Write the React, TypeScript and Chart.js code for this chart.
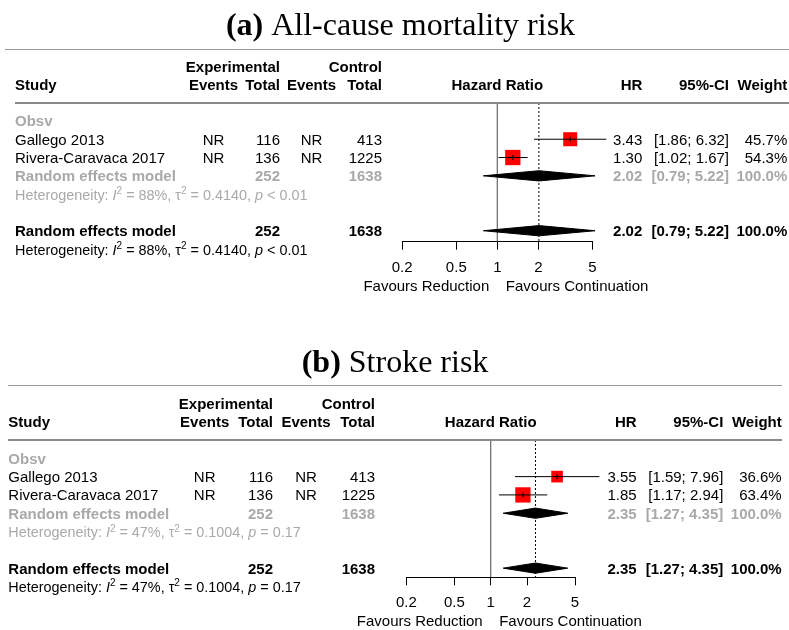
import React, { useEffect, useRef } from 'react';
import { Chart, registerables } from 'chart.js';

Chart.register(...registerables);

const W = 789;
const H = 630;

// ---- study table (shared by both outcomes) ----
const studies = ['Gallego 2013', 'Rivera-Caravaca 2017'];
const expEvents = ['NR', 'NR'];
const expTotal = [116, 136];
const ctrlEvents = ['NR', 'NR'];
const ctrlTotal = [413, 1225];
const pooledExpTotal = 252;
const pooledCtrlTotal = 1638;
const groupLabel = 'Obsv';

// ---- (a) all-cause mortality ----
const mortalityHR = [3.43, 1.3];
const mortalityLower = [1.86, 1.02];
const mortalityUpper = [6.32, 1.67];
const mortalityWeight = [45.7, 54.3];
const mortalityPooled = [2.02, 0.79, 5.22]; // estimate, lower, upper
const mortalityHet = ['88%', '0.4140', '< 0.01']; // I^2, tau^2, p

// ---- (b) stroke ----
const strokeHR = [3.55, 1.85];
const strokeLower = [1.59, 1.17];
const strokeUpper = [7.96, 2.94];
const strokeWeight = [36.6, 63.4];
const strokePooled = [2.35, 1.27, 4.35];
const strokeHet = ['47%', '0.1004', '= 0.17'];

// ---- x axis ----
const tickValues = [0.2, 0.5, 1, 2, 5];
const tickLabels = ['0.2', '0.5', '1', '2', '5'];
const favoursLeft = 'Favours Reduction';
const favoursRight = 'Favours Continuation';

const SANS = "'Liberation Sans', Arial, Helvetica, sans-serif";
const SERIF = "'Liberation Serif', 'Times New Roman', serif";
const GRAY = '#a9a9a9';
const FS = 15;
const HET_FS = 14.4;
const MAX_BOX = 15.3;
const DIAMOND_H = 0.28;
const AXIS_H = 8 + FS * 1.2 + 2 * 9;

type Layout = {
  tag: string;
  title: string;
  titleCX: number;
  titleBase: number;
  ruleY: number;
  ruleX0: number;
  ruleX1: number;
  lineX0: number;
  lineX1: number;
  top: number;
  axisY: number;
  forestL: number;
  forestR: number;
  yMin: number;
  yMax: number;
  study: number;
  evC1: number;
  totR1: number;
  evC2: number;
  totR2: number;
  hrR: number;
  ciR: number;
  wR: number;
};

type Outcome = {
  hr: number[];
  lower: number[];
  upper: number[];
  weight: number[];
  pooled: number[];
  het: string[];
};

const layoutA: Layout = {
  tag: '(a)', title: ' All-cause mortality risk', titleCX: 400.5, titleBase: 35,
  ruleY: 49, ruleX0: 5, ruleX1: 789, lineX0: 15, lineX1: 789,
  top: 103, axisY: 241.7, forestL: 402.1, forestR: 592.5, yMin: -0.98, yMax: 6.6,
  study: 15, evC1: 213.5, totR1: 280, evC2: 311.5, totR2: 382,
  hrR: 642.3, ciR: 729, wR: 787.3,
};

const layoutB: Layout = {
  tag: '(b)', title: ' Stroke risk', titleCX: 395, titleBase: 371.5,
  ruleY: 385, ruleX0: 8, ruleX1: 782, lineX0: 8, lineX1: 782,
  top: 440, axisY: 577.3, forestL: 406.4, forestR: 575, yMin: -1.0, yMax: 6.5,
  study: 8.3, evC1: 204.7, totR1: 273, evC2: 306, totR2: 375,
  hrR: 636.7, ciR: 723.3, wR: 781.7,
};

const mortality: Outcome = {
  hr: mortalityHR, lower: mortalityLower, upper: mortalityUpper,
  weight: mortalityWeight, pooled: mortalityPooled, het: mortalityHet,
};
const stroke: Outcome = {
  hr: strokeHR, lower: strokeLower, upper: strokeUpper,
  weight: strokeWeight, pooled: strokePooled, het: strokeHet,
};

const f2 = (v: number) => v.toFixed(2);
const ciText = (lo: number, hi: number) => `[${f2(lo)}; ${f2(hi)}]`;

function txt(ctx: CanvasRenderingContext2D, s: string, x: number, y: number,
  align: CanvasTextAlign, weight: string, color: string, size = FS) {
  ctx.font = `${weight} ${size}px ${SANS}`;
  ctx.textAlign = align;
  ctx.textBaseline = 'alphabetic';
  ctx.fillStyle = color;
  ctx.fillText(s, x, y);
}

function drawHet(ctx: CanvasRenderingContext2D, x: number, y: number, het: string[], color: string) {
  const segs: [string, string][] = [
    ['Heterogeneity: ', 'n'], ['I', 'i'], ['2', 's'], [` = ${het[0]}, `, 'n'],
    ['\u03c4', 'n'], ['2', 's'], [` = ${het[1]}, `, 'n'], ['p', 'i'], [` ${het[2]}`, 'n'],
  ];
  ctx.textAlign = 'left';
  ctx.textBaseline = 'alphabetic';
  ctx.fillStyle = color;
  let cx = x;
  for (const [s, k] of segs) {
    if (k === 'i') ctx.font = `italic ${HET_FS}px ${SANS}`;
    else if (k === 's') ctx.font = `${Math.round(HET_FS * 0.72)}px ${SANS}`;
    else ctx.font = `${HET_FS}px ${SANS}`;
    ctx.fillText(s, cx, k === 's' ? y - 5.5 : y);
    cx += ctx.measureText(s).width;
  }
}

function hline(ctx: CanvasRenderingContext2D, x0: number, x1: number, y: number, w: number, c: string) {
  ctx.save();
  ctx.strokeStyle = c;
  ctx.lineWidth = w;
  ctx.beginPath();
  ctx.moveTo(x0, y);
  ctx.lineTo(x1, y);
  ctx.stroke();
  ctx.restore();
}

function tablePlugin(L: Layout, o: Outcome) {
  return {
    id: 'forestTable',
    afterDraw(chart: any) {
      const ctx: CanvasRenderingContext2D = chart.ctx;
      const ys = chart.scales.y;
      const xs = chart.scales.x;
      const base = (r: number) => ys.getPixelForValue(r) + 5.5;
      const n = studies.length;
      ctx.save();

      // caption
      ctx.textBaseline = 'alphabetic';
      ctx.textAlign = 'left';
      ctx.font = `bold 32px ${SERIF}`;
      const w1 = ctx.measureText(L.tag).width;
      ctx.font = `32px ${SERIF}`;
      const w2 = ctx.measureText(L.title).width;
      const tx = L.titleCX - (w1 + w2) / 2;
      ctx.fillStyle = '#000';
      ctx.font = `bold 32px ${SERIF}`;
      ctx.fillText(L.tag, tx, L.titleBase);
      ctx.font = `32px ${SERIF}`;
      ctx.fillText(L.title, tx + w1, L.titleBase);
      hline(ctx, L.ruleX0, L.ruleX1, L.ruleY + 0.5, 1, '#9a9a9a');

      // column headers
      txt(ctx, 'Experimental', L.totR1, base(-3), 'right', 'bold', '#000');
      txt(ctx, 'Control', L.totR2, base(-3), 'right', 'bold', '#000');
      txt(ctx, 'Study', L.study, base(-2), 'left', 'bold', '#000');
      txt(ctx, 'Events', L.evC1, base(-2), 'center', 'bold', '#000');
      txt(ctx, 'Total', L.totR1, base(-2), 'right', 'bold', '#000');
      txt(ctx, 'Events', L.evC2, base(-2), 'center', 'bold', '#000');
      txt(ctx, 'Total', L.totR2, base(-2), 'right', 'bold', '#000');
      txt(ctx, 'Hazard Ratio', xs.getPixelForValue(1), base(-2), 'center', 'bold', '#000');
      txt(ctx, 'HR', L.hrR, base(-2), 'right', 'bold', '#000');
      txt(ctx, '95%-CI', L.ciR, base(-2), 'right', 'bold', '#000');
      txt(ctx, 'Weight', L.wR, base(-2), 'right', 'bold', '#000');
      hline(ctx, L.lineX0, L.lineX1, L.top, 2, '#8a8a8a');

      // subgroup label
      txt(ctx, groupLabel, L.study, base(0), 'left', 'bold', GRAY);

      // studies
      for (let i = 0; i < n; i++) {
        const y = base(i + 1);
        txt(ctx, studies[i], L.study, y, 'left', 'normal', '#000');
        txt(ctx, expEvents[i], L.evC1, y, 'center', 'normal', '#000');
        txt(ctx, String(expTotal[i]), L.totR1, y, 'right', 'normal', '#000');
        txt(ctx, ctrlEvents[i], L.evC2, y, 'center', 'normal', '#000');
        txt(ctx, String(ctrlTotal[i]), L.totR2, y, 'right', 'normal', '#000');
        txt(ctx, f2(o.hr[i]), L.hrR, y, 'right', 'normal', '#000');
        txt(ctx, ciText(o.lower[i], o.upper[i]), L.ciR, y, 'right', 'normal', '#000');
        txt(ctx, `${o.weight[i].toFixed(1)}%`, L.wR, y, 'right', 'normal', '#000');
      }

      const totalW = `${o.weight.reduce((a, b) => a + b, 0).toFixed(1)}%`;
      const pooledRow = (r: number, color: string) => {
        const y = base(r);
        txt(ctx, 'Random effects model', L.study, y, 'left', 'bold', color);
        txt(ctx, String(pooledExpTotal), L.totR1, y, 'right', 'bold', color);
        txt(ctx, String(pooledCtrlTotal), L.totR2, y, 'right', 'bold', color);
        txt(ctx, f2(o.pooled[0]), L.hrR, y, 'right', 'bold', color);
        txt(ctx, ciText(o.pooled[1], o.pooled[2]), L.ciR, y, 'right', 'bold', color);
        txt(ctx, totalW, L.wR, y, 'right', 'bold', color);
      };
      pooledRow(n + 1, GRAY);
      drawHet(ctx, L.study, base(n + 2), o.het, GRAY);
      pooledRow(n + 4, '#000');
      drawHet(ctx, L.study, base(n + 5), o.het, '#000');

      // favours labels under the axis
      const x1 = xs.getPixelForValue(1);
      const fy = chart.chartArea.bottom + 49;
      txt(ctx, favoursLeft, x1 - 8, fy, 'right', 'normal', '#000');
      txt(ctx, favoursRight, x1 + 8.5, fy, 'left', 'normal', '#000');
      ctx.restore();
    },
  };
}

function buildConfig(L: Layout, o: Outcome): any {
  const n = studies.length;
  const wMax = Math.max(...o.weight);
  const boxRadius = o.weight.map((w) => (MAX_BOX * Math.sqrt(w / wMax)) / Math.SQRT2);
  const rows = o.hr.map((_, i) => i + 1);
  const [est, lo, hi] = o.pooled;
  const diamond = (r: number) => ({
    type: 'line',
    data: [
      { x: lo, y: r }, { x: est, y: r - DIAMOND_H }, { x: hi, y: r },
      { x: est, y: r + DIAMOND_H }, { x: lo, y: r },
    ],
    borderColor: '#000', backgroundColor: '#000', borderWidth: 1,
    pointRadius: 0, fill: 'shape', tension: 0, clip: false,
  });
  const ciLines = rows.map((r, i) => ({
    type: 'line',
    data: [{ x: o.lower[i], y: r }, { x: o.upper[i], y: r }],
    borderColor: '#000', borderWidth: 1, pointRadius: 0, fill: false, clip: false,
  }));

  return {
    type: 'scatter',
    data: {
      datasets: [
        {
          type: 'scatter',
          data: rows.map((r, i) => ({ x: o.hr[i], y: r })),
          pointStyle: 'line', rotation: 90, pointRadius: 2.5,
          borderColor: '#000', borderWidth: 1, clip: false,
        },
        ...ciLines,
        {
          type: 'scatter',
          data: rows.map((r, i) => ({ x: o.hr[i], y: r })),
          pointStyle: 'rect', pointRadius: boxRadius,
          backgroundColor: '#ff0000', borderColor: '#ff0000', borderWidth: 0, clip: false,
        },
        diamond(n + 1),
        diamond(n + 4),
        {
          type: 'line',
          data: [{ x: est, y: L.yMin }, { x: est, y: L.yMax }],
          borderColor: '#000', borderWidth: 1, borderDash: [2, 2],
          pointRadius: 0, fill: false,
        },
        {
          type: 'line',
          data: [{ x: 1, y: L.yMin }, { x: 1, y: L.yMax }],
          borderColor: '#666666', borderWidth: 1.2, pointRadius: 0, fill: false,
        },
      ],
    },
    options: {
      responsive: false,
      animation: false,
      events: [],
      devicePixelRatio: 1,
      layout: {
        padding: {
          left: L.forestL,
          right: W - L.forestR,
          top: L.top,
          bottom: H - L.axisY - AXIS_H,
        },
      },
      plugins: { legend: { display: false }, tooltip: { enabled: false }, title: { display: false } },
      scales: {
        x: {
          type: 'logarithmic',
          position: 'bottom',
          min: tickValues[0],
          max: tickValues[tickValues.length - 1],
          bounds: 'data',
          afterBuildTicks: (scale: any) => {
            scale.ticks = tickValues.map((v) => ({ value: v }));
          },
          grid: {
            display: true, drawOnChartArea: false, drawTicks: true,
            tickLength: 8, color: '#000', lineWidth: 1,
          },
          border: { display: true, color: '#000', width: 1 },
          ticks: {
            autoSkip: false, maxRotation: 0, minRotation: 0, padding: 9,
            color: '#000', font: { family: SANS, size: FS },
            callback: (v: any) => tickLabels[tickValues.indexOf(Number(v))],
          },
        },
        y: {
          type: 'linear', display: false, reverse: true,
          min: L.yMin, max: L.yMax,
        },
      },
    },
    plugins: [tablePlugin(L, o)],
  };
}

function ForestPanel({ layout, outcome }: { layout: Layout; outcome: Outcome }) {
  const ref = useRef<HTMLCanvasElement>(null);
  useEffect(() => {
    if (!ref.current) return;
    const chart = new Chart(ref.current, buildConfig(layout, outcome));
    return () => chart.destroy();
  }, [layout, outcome]);
  return (
    <canvas
      ref={ref}
      width={W}
      height={H}
      style={{ position: 'absolute', left: 0, top: 0, width: W, height: H }}
    />
  );
}

export default function App() {
  return (
    <div style={{ position: 'absolute', left: 0, top: 0, width: W, height: H, background: '#fff', overflow: 'hidden' }}>
      <ForestPanel layout={layoutA} outcome={mortality} />
      <ForestPanel layout={layoutB} outcome={stroke} />
    </div>
  );
}
